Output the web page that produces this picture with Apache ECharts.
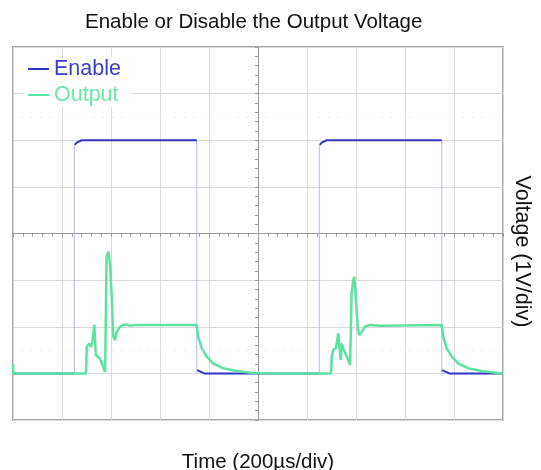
<!DOCTYPE html>
<html>
<head>
<meta charset="utf-8">
<script src="https://cdn.jsdelivr.net/npm/echarts@6/dist/echarts.min.js"></script>
<style>
  html, body { margin: 0; padding: 0; background: #fff; }
  #chart { width: 541px; height: 470px; }
</style>
</head>
<body>
<div id="chart"></div>
<script>
// time in µs (200µs/div), voltage in divisions from screen centre (1V/div)
let enableT = [-1000, -750, -750, -748, -740, -720, -250, -250, -248, -240, -220, 250, 250, 252, 260, 280, 750, 750, 752, 760, 780, 1000];
let enableV = [-3, -3, null, 1.9, 1.95, 2.0, 2.0, null, -2.93, -2.97, -3.0, -3.0, null, 1.9, 1.95, 2.0, 2.0, null, -2.93, -2.97, -3.0, -3.0];

// fast edges of the enable signal show up faint on the scope
let edgeT = [-750, -750, -500, -250, -250, 0, 250, 250, 500, 750, 750];
let edgeV = [-3, 1.9, null, 2.0, -3, null, -3, 1.9, null, 2.0, -3];

let outputT = [
  -1000, -999, -702, -699, -689, -682, -676, -668, -662, -656, -645, -624,
  -618, -611, -604, -597, -591, -584, -577, -563, -550, -536, -522, -495,
  -251, -244, -230, -209, -182, -142, -87, -20, 49,
  298, 301, 307, 318, 328, 332, 338, 342, 348, 362, 376,
  382, 389, 393, 400, 407, 413, 423, 437, 457, 498,
  749, 756, 770, 791, 818, 858, 913, 980, 1000
];
let outputV = [
  -2.8, -3.0, -3.0, -2.43, -2.36, -2.43, -2.32, -1.96, -2.61, -2.57, -2.68, -2.97,
  -0.5, -0.39, -0.64, -1.36, -2.21, -2.29, -2.11, -2.0, -1.96, -1.95, -1.98, -1.96,
  -1.96, -2.21, -2.46, -2.64, -2.79, -2.89, -2.95, -2.99, -3.0,
  -3.0, -2.64, -2.5, -2.46, -2.14, -2.43, -2.71, -2.36, -2.46, -2.64, -2.82,
  -1.28, -1.0, -0.93, -1.43, -2.0, -2.18, -2.11, -2.0, -1.96, -1.98,
  -1.96, -2.21, -2.46, -2.64, -2.79, -2.89, -2.95, -2.99, -3.0
];

let dottedLevels = [2.5, -2.5];

function pairs(t, v) {
  return t.map(function (x, i) { return [x, v[i]]; });
}

let chart = echarts.init(document.getElementById("chart"), null, { renderer: "canvas" });

let blue = "#3434c2";
let green = "#5ee2a2";
let font = "'Liberation Sans', Arial, sans-serif";

let option = {
  animation: false,
  title: {
    text: "Enable or Disable the Output Voltage",
    left: 80,
    top: 7,
    textStyle: { fontFamily: font, fontSize: 20.5, fontWeight: "normal", color: "#111" }
  },
  legend: {
    data: [
      { name: "Enable", textStyle: { color: "#3c3cc8" } },
      { name: "Output", textStyle: { color: "#6ce8aa" } }
    ],
    orient: "vertical",
    left: 24,
    top: 57,
    itemWidth: 21,
    itemHeight: 2,
    itemGap: 4,
    icon: "rect",
    backgroundColor: "#fff",
    padding: [1, 10, 1, 4],
    textStyle: { fontFamily: font, fontSize: 21.5 }
  },
  grid: {
    left: 13,
    top: 47,
    right: 38,
    bottom: 50,
    outerBoundsMode: "none",
    show: true,
    borderColor: "#a6a6a6",
    borderWidth: 2
  },
  xAxis: [
    {
      type: "value", min: -1000, max: 1000, interval: 200,
      axisLine: { onZero: true, lineStyle: { color: "#9a9a9a", width: 1 } },
      axisTick: { show: true, length: 3, lineStyle: { color: "#9a9a9a" } },
      minorTick: { show: true, splitNumber: 5, length: 3, lineStyle: { color: "#9a9a9a" } },
      axisLabel: { show: false },
      splitLine: { show: true, lineStyle: { color: "#dadada", width: 1 } }
    },
    {
      type: "value", min: -1000, max: 1000, interval: 200,
      axisLine: { onZero: true, lineStyle: { color: "#9a9a9a", width: 1 } },
      axisTick: { show: true, inside: true, length: 3, lineStyle: { color: "#9a9a9a" } },
      minorTick: { show: true, splitNumber: 5, length: 3, lineStyle: { color: "#9a9a9a" } },
      axisLabel: { show: false },
      splitLine: { show: false }
    },
    {
      type: "value", min: -1000, max: 1000, interval: 200, position: "bottom",
      name: "Time (200µs/div)",
      nameLocation: "middle",
      nameGap: 32,
      nameTextStyle: { fontFamily: font, fontSize: 20.5, color: "#111" },
      axisLine: { show: false, onZero: false },
      axisTick: { show: false },
      axisLabel: { show: false },
      splitLine: { show: false }
    }
  ],
  yAxis: [
    {
      type: "value", min: -4, max: 4, interval: 1,
      axisLine: { show: true, onZero: true, lineStyle: { color: "#9a9a9a", width: 1 } },
      axisTick: { show: true, length: 3, lineStyle: { color: "#9a9a9a" } },
      minorTick: { show: true, splitNumber: 5, length: 3, lineStyle: { color: "#9a9a9a" } },
      axisLabel: { show: false },
      splitLine: { show: true, lineStyle: { color: "#dadada", width: 1 } }
    },
    {
      type: "value", min: -4, max: 4, interval: 1,
      axisLine: { show: true, onZero: true, lineStyle: { color: "#9a9a9a", width: 1 } },
      axisTick: { show: true, inside: true, length: 3, lineStyle: { color: "#9a9a9a" } },
      minorTick: { show: true, splitNumber: 5, length: 3, lineStyle: { color: "#9a9a9a" } },
      axisLabel: { show: false },
      splitLine: { show: false }
    },
    {
      type: "value", min: -4, max: 4, interval: 1, position: "right",
      name: "Voltage (1V/div)",
      nameLocation: "middle",
      nameRotate: -90,
      nameGap: 8,
      nameTextStyle: { fontFamily: font, fontSize: 21.5, color: "#111", padding: [0, 0, 0, 36] },
      axisLine: { show: false, onZero: false },
      axisTick: { show: false },
      axisLabel: { show: false },
      splitLine: { show: false }
    }
  ],
  series: [
    {
      name: "edges",
      type: "line",
      data: pairs(edgeT, edgeV),
      showSymbol: false,
      connectNulls: false,
      lineStyle: { color: "#b6b6ee", width: 1 },
      silent: true,
      markLine: {
        silent: true,
        symbol: "none",
        label: { show: false },
        lineStyle: { color: "#e0e0e0", type: [1, 8], width: 1 },
        data: dottedLevels.map(function (v) { return { yAxis: v }; })
      }
    },
    {
      name: "Enable",
      type: "line",
      data: pairs(enableT, enableV),
      showSymbol: false,
      connectNulls: false,
      color: blue,
      lineStyle: { color: blue, width: 2 }
    },
    {
      name: "Output",
      type: "line",
      data: pairs(outputT, outputV),
      showSymbol: false,
      color: green,
      lineStyle: { color: green, width: 2.5 }
    }
  ]
};

chart.setOption(option);
</script>
</body>
</html>
